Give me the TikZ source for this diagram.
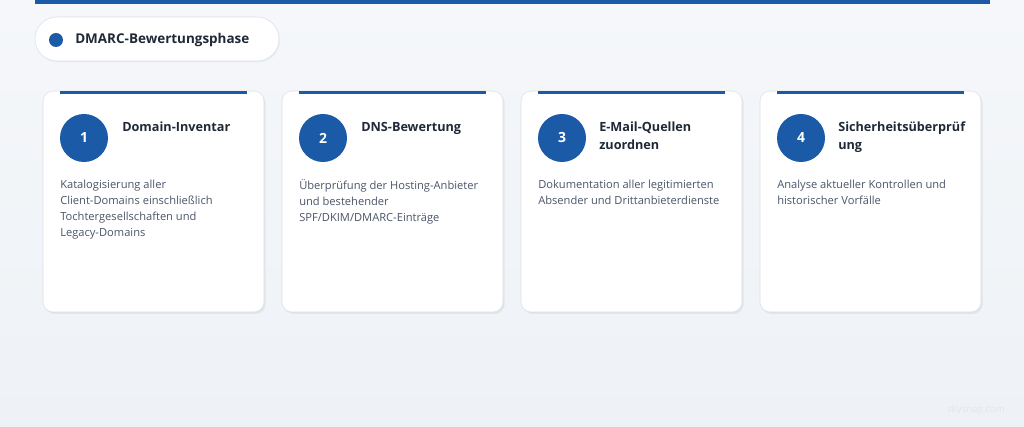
\documentclass[tikz,border=0pt]{standalone}
\usepackage{fontspec}
\setmainfont{Open Sans}
\usetikzlibrary{positioning,backgrounds,calc,shadows}

\definecolor{phaseBlue}{HTML}{1B5AA6}
\definecolor{pageTop}{HTML}{F5F7FA}
\definecolor{pageBot}{HTML}{EEF2F6}
\definecolor{cardLine}{HTML}{D9E1EB}
\definecolor{titleInk}{HTML}{1F2937}
\definecolor{bodyInk}{HTML}{4A5568}
\definecolor{markInk}{HTML}{E2E6EB}

\tikzset{
	card/.style={draw=cardLine, fill=white, rounded corners=7.5pt,
		minimum width=165.75pt, minimum height=165.75pt, inner sep=0, outer sep=0,
		anchor=north west,
		drop shadow={shadow xshift=1.2pt, shadow yshift=-1.5pt, opacity=0.12}},
	pill/.style={draw=cardLine, fill=white, rounded corners=16.5pt,
		minimum width=183pt, minimum height=33pt, inner sep=0, outer sep=0,
		drop shadow={shadow xshift=0.8pt, shadow yshift=-1pt, opacity=0.08}},
	phasedot/.style={circle, fill=phaseBlue, minimum size=10.5pt, inner sep=0},
	phasetext/.style={anchor=west, inner sep=0, text=titleInk,
		font=\fontsize{10.1}{12}\selectfont\bfseries},
	badge/.style={circle, fill=phaseBlue, minimum size=36pt, inner sep=0,
		text=white, font=\fontsize{10.5}{12}\selectfont\bfseries},
	cardtitle/.style={anchor=north west, inner sep=0, align=left, text=titleInk,
		font=\fontsize{9.5}{13.5}\selectfont\bfseries},
	cardbody/.style={anchor=north west, inner sep=0, align=left, text=bodyInk,
		font=\fontsize{8.35}{12}\selectfont},
	watermark/.style={inner sep=0, text=markInk, font=\fontsize{7.2}{9}\selectfont}
}

\begin{document}
\begin{tikzpicture}[x=0.75pt, y=-0.75pt]

	% page
	\useasboundingbox (0,0) rectangle (1024,427);
	\shade[top color=pageTop, bottom color=pageBot] (0,0) rectangle (1024,427);
	\fill[phaseBlue] (35,0) rectangle (990,4);

	% phase header
	\node[pill] (phase) at (157,39) {};
	\node[phasedot] (dot) at (56,40) {};
	\node[phasetext] (phasename) at (75,40) {DMARC-Bewertungsphase};

	% cards
	\node[card] (c1) at (43,91) {};
	\node[card] (c2) at (282,91) {};
	\node[card] (c3) at (521,91) {};
	\node[card] (c4) at (760,91) {};

	\fill[phaseBlue] ($(c1.north west)+(17,0)$) rectangle ($(c1.north east)+(-17,3)$);
	\fill[phaseBlue] ($(c2.north west)+(17,0)$) rectangle ($(c2.north east)+(-17,3)$);
	\fill[phaseBlue] ($(c3.north west)+(17,0)$) rectangle ($(c3.north east)+(-17,3)$);
	\fill[phaseBlue] ($(c4.north west)+(17,0)$) rectangle ($(c4.north east)+(-17,3)$);

	% step numbers
	\node[badge] (n1) at (84,138) {1};
	\node[badge] (n2) at (323,138) {2};
	\node[badge] (n3) at (562,138) {3};
	\node[badge] (n4) at (801,138) {4};

	% titles
	\node[cardtitle] (t1) at (122,122) {Domain-Inventar};
	\node[cardtitle] (t2) at (361,122) {DNS-Bewertung};
	\node[cardtitle] (t3) at (599,122) {E-Mail-Quellen\\zuordnen};
	\node[cardtitle] (t4) at (838,122) {Sicherheitsüberprüf\\ung};

	% descriptions
	\node[cardbody] (d1) at (60,179.5) {Katalogisierung aller\\Client-Domains einschließlich\\Tochtergesellschaften und\\Legacy-Domains};
	\node[cardbody] (d2) at (299,179.5) {Überprüfung der Hosting-Anbieter\\und bestehender\\SPF/DKIM/DMARC-Einträge};
	\node[cardbody] (d3) at (538,179.5) {Dokumentation aller legitimierten\\Absender und Drittanbieterdienste};
	\node[cardbody] (d4) at (777,179.5) {Analyse aktueller Kontrollen und\\historischer Vorfälle};

	\node[watermark] (wm) at (976,410) {skysnag.com};
\end{tikzpicture}
\end{document}
